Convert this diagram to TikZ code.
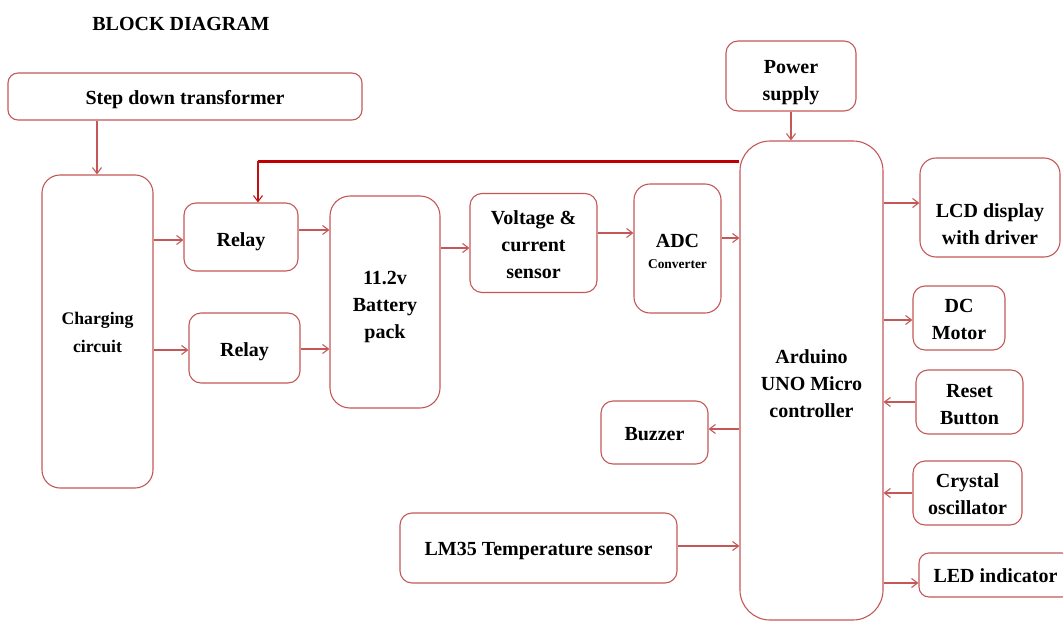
\documentclass[tikz,border=0pt]{standalone}
\usepackage{fontspec}
\setmainfont{Liberation Serif}
\usetikzlibrary{arrows.meta}
\definecolor{boxc}{RGB}{196,88,88}
\definecolor{darkred}{RGB}{192,0,0}
\tikzset{
  blk/.style={draw=boxc, line width=1.1pt, rounded corners=12pt, inner sep=0pt},
  txt/.style={align=center, inner sep=0pt, font=\bfseries\fontsize{20}{27}\selectfont, text=black},
  arr/.style={draw=boxc, line width=1.1pt, -{Straight Barb[length=6pt,width=9pt]}},
}
\begin{document}
\begin{tikzpicture}[x=1pt,y=-1pt]
\useasboundingbox (0,0) rectangle (1063,621);
\node[txt, font=\bfseries\fontsize{20}{24}\selectfont] (title) at (181,24) {BLOCK DIAGRAM};

% boxes
\node[blk, rounded corners=10pt, minimum width=354pt, minimum height=47pt] (sdt) at (185,96.5) {};
\node[blk, rounded corners=18pt, minimum width=111pt, minimum height=313pt] (chg) at (97.5,331.5) {};
\node[blk, minimum width=114pt, minimum height=68pt] (r1) at (241,237) {};
\node[blk, minimum width=111pt, minimum height=70pt] (r2) at (244.5,348) {};
\node[blk, rounded corners=20pt, minimum width=110pt, minimum height=212pt] (bat) at (385,302) {};
\node[blk, minimum width=127pt, minimum height=99pt] (vcs) at (533.5,243) {};
\node[blk, rounded corners=16pt, minimum width=87pt, minimum height=129pt] (adc) at (677.5,248.5) {};
\node[blk, rounded corners=30pt, minimum width=143pt, minimum height=479pt] (ard) at (811.5,380.5) {};
\node[blk, minimum width=130pt, minimum height=70pt] (ps) at (791,76) {};
\node[blk, rounded corners=16pt, minimum width=140pt, minimum height=99pt] (lcd) at (990,207.5) {};
\node[blk, minimum width=92pt, minimum height=64pt] (dcm) at (959,318) {};
\node[blk, minimum width=107pt, minimum height=64pt] (rst) at (969.5,402) {};
\node[blk, minimum width=109pt, minimum height=64pt] (xtal) at (967.5,493) {};
\node[blk, rounded corners=10pt, minimum width=153pt, minimum height=44pt] (led) at (995.5,575) {};
\node[blk, minimum width=107pt, minimum height=63pt] (buz) at (654.5,432.5) {};
\node[blk, minimum width=277pt, minimum height=70pt] (lm) at (538.5,548) {};

% texts
\node[txt] (sdtt) at ([yshift=-3pt]sdt.center) {Step down transformer};
\node[txt, font=\bfseries\fontsize{17.7}{28}\selectfont] (chgt) at ([yshift=-1pt]chg.center) {Charging\\circuit};
\node[txt] (r1t) at ([yshift=-5pt]r1.center) {Relay};
\node[txt] (r2t) at ([yshift=-4pt]r2.center) {Relay};
\node[txt] (batt) at ([yshift=-5pt]bat.center) {11.2v\\Battery\\pack};
\node[txt] (vcst) at ([yshift=-2pt]vcs.center) {Voltage \&\\current\\sensor};
\node[txt] (adct) at ([yshift=-3pt]adc.center) {ADC\\[-6pt]{\fontsize{13.4}{16}\selectfont Converter}};
\node[txt] (ardt) at ([yshift=-3.5pt]ard.center) {Arduino\\UNO Micro\\controller};
\node[txt] (pst) at ([yshift=-6.5pt]ps.center) {Power\\supply};
\node[txt] (lcdt) at ([yshift=-17pt]lcd.center) {LCD display\\with driver};
\node[txt] (dcmt) at ([yshift=-1.5pt]dcm.center) {DC\\Motor};
\node[txt] (rstt) at ([yshift=-2.5pt]rst.center) {Reset\\Button};
\node[txt] (xtalt) at ([yshift=-1pt]xtal.center) {Crystal\\oscillator};
\node[txt] (ledt) at ([yshift=-1pt]led.center) {LED indicator};
\node[txt] (buzt) at ([yshift=-2pt]buz.center) {Buzzer};
\node[txt] (lmt) at ([yshift=-3pt]lm.center) {LM35 Temperature sensor};

% connectors
\draw[arr] (sdt.south -| 97,0) -- (chg.north -| 97,0);
\draw[arr] (chg.east |- 0,240) -- (r1.west |- 0,240);
\draw[arr] (chg.east |- 0,350) -- (r2.west |- 0,350);
\draw[arr] (r1.east |- 0,230) -- (bat.west |- 0,230);
\draw[arr] (r2.east |- 0,349) -- (bat.west |- 0,349);
\draw[arr] (bat.east |- 0,248) -- (vcs.west |- 0,248);
\draw[arr] (vcs.east |- 0,233) -- (adc.west |- 0,233);
\draw[arr] (adc.east |- 0,238) -- (ard.west |- 0,238);
\draw[arr] (ps.south) -- (ard.north -| ps.south);
\draw[arr] (ard.east |- 0,203) -- (lcd.west |- 0,203);
\draw[arr] (ard.east |- 0,320) -- (dcm.west |- 0,320);
\draw[arr] (rst.west |- 0,402) -- (ard.east |- 0,402);
\draw[arr] (xtal.west |- 0,493) -- (ard.east |- 0,493);
\draw[arr] (ard.east |- 0,583) -- (led.west |- 0,583);
\draw[arr] (ard.west |- 0,429) -- (buz.east |- 0,429);
\draw[arr] (lm.east |- 0,546) -- (ard.west |- 0,546);

\coordinate (bend) at (258,161);
\draw[darkred, line width=3pt] (ard.west |- bend) -- (bend);
\draw[arr, draw=darkred!80!boxc] (bend) -- (r1.north -| bend);
\end{tikzpicture}
\end{document}
